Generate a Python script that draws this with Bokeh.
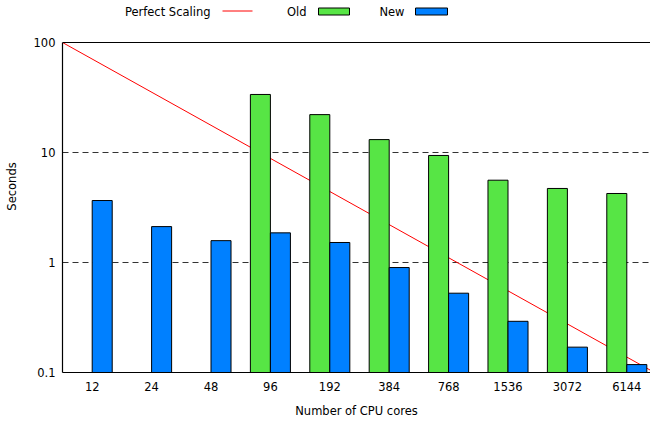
from bokeh.plotting import figure
from bokeh.models import Range1d, FixedTicker, Span, ColumnDataSource
from bokeh.embed import file_html
from bokeh.resources import INLINE
from bokeh.core.properties import value

# ---- data ----
cores = ["12", "24", "48", "96", "192", "384", "768", "1536", "3072", "6144"]
old_times = [None, None, None, 33.7, 22.1, 13.1, 9.4, 5.6, 4.71, 4.24]
new_times = [3.66, 2.12, 1.58, 1.86, 1.52, 0.90, 0.526, 0.292, 0.170, 0.118]
perfect_x = [-0.5, 9.5]
perfect_y = [100.0, 100.0 / 1024]
y_ticks = [0.1, 1, 10, 100]
y_tick_labels = ["0.1", "1", "10", "100"]
legend_labels = ["Perfect Scaling", "Old", "New"]

FONT = "DejaVu Sans"
FS = "11.5px"
GREEN = "#57e545"
BLUE = "#0080ff"
RED = "#ff0000"

bar_w = 0.337
off = bar_w / 2

old_src = ColumnDataSource(dict(
    x=[i - off for i, v in enumerate(old_times) if v is not None],
    top=[v for v in old_times if v is not None],
))
new_src = ColumnDataSource(dict(
    x=[i + off for i in range(len(new_times))],
    top=new_times,
))

W, H = 650, 421
LEFT, BOTTOM = 62, 49
PX_CAT = 59.4          # px per category
PX_DEC = 110.0         # px per decade
KEY_SPACE = 42         # px above the 100 line for the key

x_end = -0.5 + (W - LEFT) / PX_CAT
y_max = 100 * 10 ** (KEY_SPACE / PX_DEC)

p = figure(width=W, height=H, x_range=Range1d(-0.5, x_end), y_range=Range1d(0.1, y_max),
           y_axis_type="log", toolbar_location=None, output_backend="svg",
           min_border_left=LEFT, min_border_right=0, min_border_top=0, min_border_bottom=BOTTOM)
p.outline_line_color = None
p.xgrid.visible = False
p.ygrid.ticker = FixedTicker(ticks=[1, 10])
p.ygrid.grid_line_color = "#333333"
p.ygrid.grid_line_dash = "6 4"
p.ygrid.grid_line_width = 1

p.add_layout(Span(location=100, dimension="width", line_color="black", line_width=1.2))

p.line(perfect_x, perfect_y, line_color=RED, line_width=1)
p.vbar(x="x", top="top", bottom=0.1, width=bar_w, source=old_src,
       fill_color=GREEN, line_color="black", line_width=1)
p.vbar(x="x", top="top", bottom=0.1, width=bar_w, source=new_src,
       fill_color=BLUE, line_color="black", line_width=1)

# ---- key (label then sample, as in the original); positions in figure pixels ----
def cat_x(fx):
    return -0.5 + (fx - LEFT) / PX_CAT

def val_y(fy):
    return 10 ** (2 - (fy - KEY_SPACE) / PX_DEC)

ky, kl, kt, kb = val_y(11), val_y(10.5), val_y(7.5), val_y(14.5)
p.text(x=[cat_x(210), cat_x(306), cat_x(404)], y=[ky] * 3, text=legend_labels,
       text_align="right", text_baseline="middle", text_font=value(FONT),
       text_font_size=FS, text_color="black")
p.line(x=[cat_x(222), cat_x(252)], y=[kl, kl], line_color=RED, line_width=1)
p.quad(left=[cat_x(318)], right=[cat_x(349)], top=[kt], bottom=[kb],
       fill_color=GREEN, line_color="black", line_width=1)
p.quad(left=[cat_x(415)], right=[cat_x(447)], top=[kt], bottom=[kb],
       fill_color=BLUE, line_color="black", line_width=1)

# ---- axes ----
p.xaxis.ticker = FixedTicker(ticks=list(range(len(cores))))
p.xaxis.major_label_overrides = {i: c for i, c in enumerate(cores)}
p.yaxis.ticker = FixedTicker(ticks=y_ticks)
p.yaxis.major_label_overrides = {t: l for t, l in zip(y_ticks, y_tick_labels)}
p.yaxis.bounds = (0.1, 100)
p.xaxis.axis_label = "Number of CPU cores"
p.yaxis.axis_label = "Seconds"
for ax in (p.xaxis, p.yaxis):
    ax.major_tick_line_color = None
    ax.minor_tick_line_color = None
    ax.major_tick_out = 0
    ax.major_tick_in = 0
    ax.minor_tick_out = 0
    ax.minor_tick_in = 0
    ax.axis_line_color = "black"
    ax.axis_line_width = 1.2
    ax.major_label_text_font = FONT
    ax.major_label_text_font_size = FS
    ax.major_label_text_color = "black"
    ax.axis_label_text_font = FONT
    ax.axis_label_text_font_size = FS
    ax.axis_label_text_font_style = "normal"
    ax.axis_label_text_color = "black"
p.xaxis.major_label_standoff = 9
p.xaxis.axis_label_standoff = 10
p.yaxis.major_label_standoff = 7
p.yaxis.axis_label_standoff = 12

open("out.html", "w").write(file_html(p, INLINE))
